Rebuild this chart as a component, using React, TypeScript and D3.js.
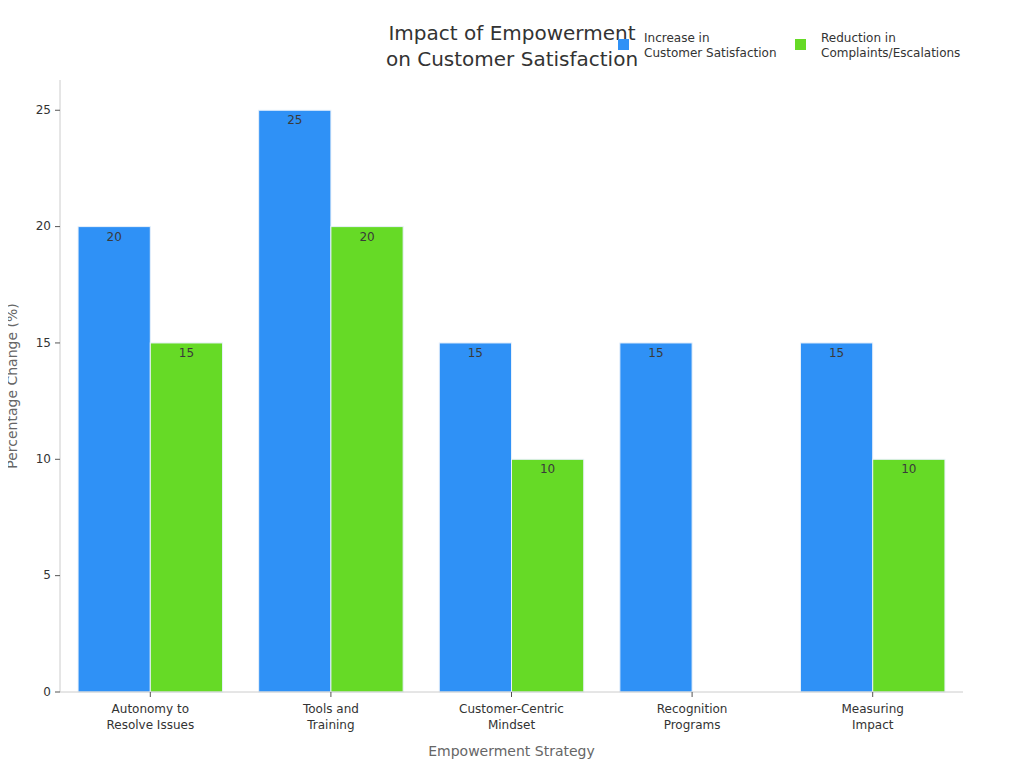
import { max, scaleBand, scaleLinear } from 'd3'

const categories = [
  ['Autonomy to', 'Resolve Issues'],
  ['Tools and', 'Training'],
  ['Customer-Centric', 'Mindset'],
  ['Recognition', 'Programs'],
  ['Measuring', 'Impact'],
]
const satisfactionIncrease = [20, 25, 15, 15, 15]
const complaintReduction = [15, 20, 10, 0, 10]
const seriesNames = [
  ['Increase in', 'Customer Satisfaction'],
  ['Reduction in', 'Complaints/Escalations'],
]
const seriesColors = ['#2f91f6', '#66da26']
const yTicks = [0, 5, 10, 15, 20, 25]

const width = 1024
const height = 768
const margin = { top: 80, right: 61, bottom: 76, left: 60 }
const font = '"DejaVu Sans", Verdana, sans-serif'

function App() {
  const innerWidth = width - margin.left - margin.right
  const innerHeight = height - margin.top - margin.bottom
  const yMax = (max([...satisfactionIncrease, ...complaintReduction]) ?? 0) * 1.052

  const xScale = scaleBand<number>()
    .domain(categories.map((_, i) => i))
    .range([0, innerWidth])
    .paddingInner(0.2)
    .paddingOuter(0.1)

  const seriesScale = scaleBand<number>()
    .domain([0, 1])
    .range([0, xScale.bandwidth()])

  const yScale = scaleLinear().domain([0, yMax]).range([innerHeight, 0])

  const series = [satisfactionIncrease, complaintReduction]

  return (
    <svg width={width} height={height} style={{ display: 'block', margin: -8 }} fontFamily={font}>
      <rect width={width} height={height} fill="#fff" />
      <text x={512} y={40} textAnchor="middle" fontSize={20} fill="#333">
        Impact of Empowerment
      </text>
      <text x={512} y={66} textAnchor="middle" fontSize={20} fill="#333">
        on Customer Satisfaction
      </text>

      {seriesNames.map((name, s) => {
        const lx = s === 0 ? 618 : 795
        return (
          <g key={`legend-${s}`}>
            <rect x={lx} y={39} width={11} height={11} fill={seriesColors[s]} />
            <text x={lx + 26} y={42} fontSize={12} fill="#333">
              {name[0]}
            </text>
            <text x={lx + 26} y={57} fontSize={12} fill="#333">
              {name[1]}
            </text>
          </g>
        )
      })}

      <g transform={`translate(${margin.left}, ${margin.top})`}>
        {series.map((values, s) =>
          values.map((value, i) => {
            const x = (xScale(i) ?? 0) + (seriesScale(s) ?? 0)
            const y = yScale(value)
            if (value <= 0) return null
            return (
              <g key={`bar-${s}-${i}`}>
                <rect
                  x={x}
                  y={y}
                  width={seriesScale.bandwidth()}
                  height={innerHeight - y}
                  fill={seriesColors[s]}
                  stroke="#e8f1fb"
                  strokeWidth={1}
                />
                <text
                  x={x + seriesScale.bandwidth() / 2}
                  y={y + 14}
                  textAnchor="middle"
                  fontSize={12}
                  fill="#3a3a3a"
                >
                  {value}
                </text>
              </g>
            )
          }),
        )}

        <line x1={0} y1={0} x2={0} y2={innerHeight} stroke="#ccc" />
        <line x1={0} y1={innerHeight} x2={innerWidth} y2={innerHeight} stroke="#ccc" />

        {yTicks.map((tick) => (
          <g key={`y-${tick}`} transform={`translate(0, ${yScale(tick)})`}>
            <line x1={-5} x2={0} stroke="#555" />
            <text x={-9} dy="0.32em" textAnchor="end" fontSize={12} fill="#333">
              {tick}
            </text>
          </g>
        ))}

        {categories.map((label, i) => {
          const cx = (xScale(i) ?? 0) + xScale.bandwidth() / 2
          return (
            <g key={`x-${i}`} transform={`translate(${cx}, ${innerHeight})`}>
              <line y1={0} y2={5} stroke="#555" />
              <text y={21} textAnchor="middle" fontSize={12} fill="#333">
                {label[0]}
              </text>
              <text y={37} textAnchor="middle" fontSize={12} fill="#333">
                {label[1]}
              </text>
            </g>
          )
        })}

        <text
          x={innerWidth / 2}
          y={innerHeight + 64}
          textAnchor="middle"
          fontSize={14}
          fill="#666"
        >
          Empowerment Strategy
        </text>
        <text
          transform={`translate(-43, ${innerHeight / 2}) rotate(-90)`}
          textAnchor="middle"
          fontSize={14}
          fill="#666"
        >
          Percentage Change (%)
        </text>
      </g>
    </svg>
  )
}

export default App
